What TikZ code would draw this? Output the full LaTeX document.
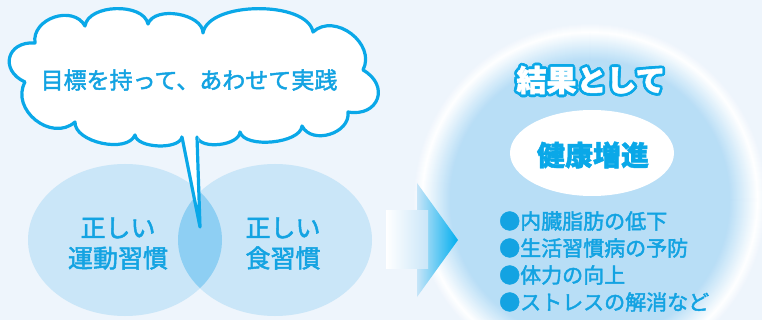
\documentclass[tikz,border=0pt]{standalone}
\usepackage{fontspec}
\newfontfamily\jp[FakeBold=2]{Noto Sans CJK JP}
\newfontfamily\jpb[BoldFeatures={FakeBold=1.5}]{Noto Sans CJK JP}
\usetikzlibrary{calc}
\definecolor{bgc}{HTML}{EEF5FC}
\definecolor{vennc}{HTML}{CAE6F8}
\definecolor{overc}{HTML}{8ECFF3}
\definecolor{cyanT}{HTML}{13A3E2}
\definecolor{cyanS}{HTML}{0AA8E8}
\definecolor{cin}{HTML}{B8DEF6}
\definecolor{tipc}{HTML}{00AEEF}
\tikzset{
  vennfill/.style={fill=vennc},
  cloudline/.style={draw=cyanS, line width=3.2pt, line join=round, fill=white},
  jtext/.style={text=cyanT, inner sep=0pt, font=\jp\fontsize{#1}{#1}\selectfont},
  btext/.style={inner sep=0pt, font=\jpb\bfseries\fontsize{#1}{#1}\selectfont},
}
\begin{document}
\begin{tikzpicture}[x=1pt,y=-1pt]
\useasboundingbox (0,0) rectangle (762,320);
\clip (0,0) rectangle (762,320);
\fill[bgc] (0,0) rectangle (762,320);
% Venn
\fill[vennfill] (125,240) ellipse [x radius=97pt, y radius=76pt];
\fill[vennfill] (275,240) ellipse [x radius=97pt, y radius=76pt];
\begin{scope}
  \clip (125,240) ellipse [x radius=97pt, y radius=76pt];
  \fill[overc] (275,240) ellipse [x radius=97pt, y radius=76pt];
\end{scope}
\node[jtext=25] (l1) at (118,228) {正しい};
\node[jtext=25] (l2) at (118,258) {運動習慣};
\node[jtext=25] (r1) at (283,228) {正しい};
\node[jtext=25] (r2) at (283,258) {食習慣};
% cloud
\coordinate (tl) at (182,137);
\coordinate (tr) at (197,137);
\coordinate (tip) at (200,227);
\path[cloudline] (35,43) to[bend left=80, looseness=1.2] (85,26)
  to[bend left=80, looseness=0.9] (148,24)
  to[bend left=80, looseness=0.9] (203,33)
  to[bend left=80, looseness=0.75] (313,32)
  to[bend left=80, looseness=1.2] (363,70)
  to[bend left=80, looseness=1.8] (348,112)
  to[bend left=80, looseness=1.15] (302,126)
  to[bend left=80, looseness=0.72] (240,132)
  to[bend left=80, looseness=0.8] (tr) -- (tl)
  to[bend left=80, looseness=0.73] (135,135)
  to[bend left=80, looseness=0.85] (75,122)
  to[bend left=80, looseness=1.25] (25,82)
  to[bend left=80, looseness=1.8] cycle;
\fill[white] (180,126) -- (tip) -- (199,126) -- cycle;
\draw[cyanS, line width=3.2pt, line join=round, line cap=round] (tl) -- (tip) -- (tr);
\node[jtext=23] (ct) at (189,80) {目標を持って、あわせて実践};
% big glow circle
\coordinate (bc) at (590,200);
\foreach \r in {177,176,...,168}{
  \pgfmathsetmacro\p{(177-\r)/9*100}
  \fill[white!\p!bgc] (bc) circle (\r pt);
}
\foreach \r in {167,166,...,140}{
  \pgfmathsetmacro\p{(\r-140)/28*100}
  \fill[white!\p!cin] (bc) circle (\r pt);
}
% arrow
\shade[left color=cin!80!white, right color=tipc] (417,183) -- (458,240) -- (417,297) -- cycle;
\shade[left color=white, right color=vennc] (386,211) rectangle (428,268);
% results
\foreach \a [count=\i] in {0,30,...,330}{
  \node[btext=30, text=cyanS] (o\i) at ($(591,80)+(\a:2.8pt)$) {結果として};
}
\node[btext=30, text=white] (res) at (591,80) {結果として};
\fill[white] (592,153) ellipse [x radius=82pt, y radius=43pt];
\node[btext=28, text=cyanS] (kk) at (593,155) {健康増進};
\node[jtext=21, anchor=west] (b1) at (499,221) {●内臓脂肪の低下};
\node[jtext=21, anchor=west] (b2) at (499,248) {●生活習慣病の予防};
\node[jtext=21, anchor=west] (b3) at (499,275) {●体力の向上};
\node[jtext=21, anchor=west] (b4) at (499,302) {●ストレスの解消など};
\end{tikzpicture}
\end{document}
